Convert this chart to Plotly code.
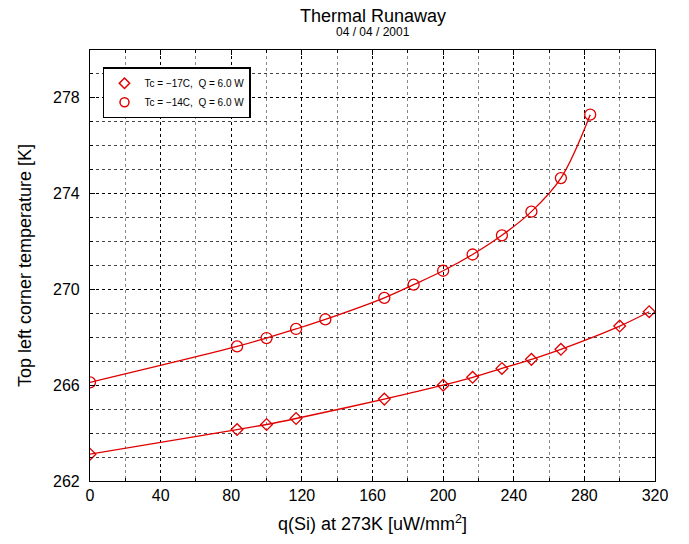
import plotly.graph_objects as go

# Data
x_diam = [0, 83.3, 100, 116.7, 166.7, 200, 216.7, 233.3, 250, 266.7, 300, 316.7]
y_diam = [263.12, 264.15, 264.36, 264.61, 265.42, 266.0, 266.33, 266.7, 267.08, 267.5, 268.47, 269.07]
x_circ = [0, 83.3, 100, 116.7, 133.3, 166.7, 183.3, 200, 216.7, 233.3, 250, 266.7, 283.3]
y_circ = [266.12, 267.62, 267.97, 268.35, 268.75, 269.65, 270.2, 270.78, 271.46, 272.26, 273.25, 274.65, 277.3]
names = ["Tc = \u221217C,  Q = 6.0 W", "Tc = \u221214C,  Q = 6.0 W"]
x_ticks = [0, 40, 80, 120, 160, 200, 240, 280, 320]
y_ticks = [262, 266, 270, 274, 278]
title_text = "Thermal Runaway"
subtitle_text = "04 / 04 / 2001"

RED = "#e00000"
FONT = "Liberation Sans, Arial, Helvetica, sans-serif"

fig = go.Figure()
fig.add_trace(go.Scatter(x=x_diam, y=y_diam, mode="lines+markers", line=dict(color=RED, width=1.3, shape="spline"),
                         marker=dict(symbol="diamond-open", size=9, color=RED, line=dict(width=1.3)),
                         showlegend=False))
fig.add_trace(go.Scatter(x=x_circ, y=y_circ, mode="lines+markers", line=dict(color=RED, width=1.3, shape="spline"),
                         marker=dict(symbol="circle-open", size=11, color=RED, line=dict(width=1.3)),
                         showlegend=False))
# legend-only entries (marker only)
fig.add_trace(go.Scatter(x=[None], y=[None], mode="markers", name=names[0],
                         marker=dict(symbol="diamond-open", size=8, color=RED, line=dict(width=1.5))))
fig.add_trace(go.Scatter(x=[None], y=[None], mode="markers", name=names[1],
                         marker=dict(symbol="circle-open", size=9, color=RED, line=dict(width=1.5))))

fig.update_layout(
    width=689, height=544,
    margin=dict(l=90, r=34, t=50, b=63),
    paper_bgcolor="white", plot_bgcolor="white",
    font=dict(family=FONT, color="black", size=16),
    legend=dict(x=0.023, y=0.96, xanchor="left", yanchor="top", bgcolor="white",
                bordercolor="black", borderwidth=1.5, font=dict(size=10, family=FONT),
                itemwidth=30, tracegroupgap=0),
    annotations=[
        dict(text=title_text, xref="paper", yref="paper", x=0.5, y=1, xanchor="center", yanchor="middle",
             yshift=34, showarrow=False, font=dict(size=18, family=FONT, color="black")),
        dict(text=subtitle_text, xref="paper", yref="paper", x=0.5, y=1, xanchor="center", yanchor="middle",
             yshift=18, showarrow=False, font=dict(size=12, family=FONT, color="black")),
    ],
)
fig.update_xaxes(
    range=[0, 320], tickvals=x_ticks, showline=True, linecolor="black", linewidth=1.2, mirror="ticks",
    ticks="inside", ticklen=5, tickcolor="black",
    showgrid=True, gridcolor="black", griddash="dot", gridwidth=1,
    minor=dict(dtick=20, showgrid=True, gridcolor="#888", griddash="dot", ticks="inside", ticklen=3, tickcolor="black"),
    zeroline=False,
    title=dict(text="q(Si) at 273K [uW/mm<sup>2</sup>]", font=dict(size=18), standoff=14),
    tickfont=dict(size=16),
)
fig.update_yaxes(
    range=[262, 280], tickvals=y_ticks, showline=True, linecolor="black", linewidth=1.2, mirror="ticks",
    ticks="inside", ticklen=5, tickcolor="black",
    showgrid=True, gridcolor="black", griddash="dot", gridwidth=1,
    minor=dict(dtick=1, showgrid=True, gridcolor="#444", griddash="dot", ticks="inside", ticklen=3, tickcolor="black"),
    zeroline=False, ticklabelstandoff=6,
    title=dict(text="Top left corner temperature [K]", font=dict(size=18), standoff=16),
    tickfont=dict(size=16),
)

fig.write_html("out.html")
